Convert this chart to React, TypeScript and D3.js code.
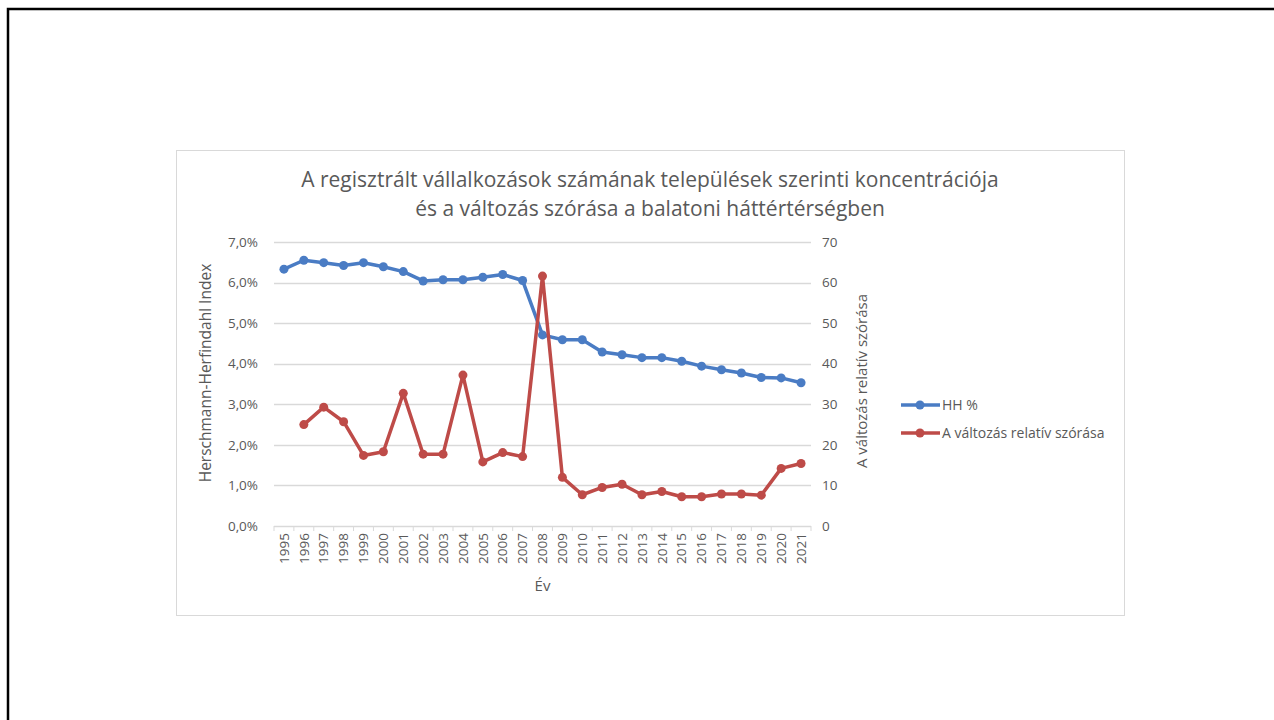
import { useEffect, useRef } from 'react';
import * as d3 from 'd3';

const years = d3.range(1995, 2022).map(String);

// HH % (left axis, percent)
const hhValues = [
  6.33, 6.55, 6.49, 6.42, 6.49, 6.39, 6.27, 6.04, 6.07, 6.07, 6.13, 6.2, 6.05, 4.71,
  4.59, 4.59, 4.29, 4.22, 4.15, 4.15, 4.06, 3.94, 3.85, 3.77, 3.66, 3.65, 3.53,
];

// A változás relatív szórása (right axis), 1995 has no value
const szorasValues = [
  null, 25.0, 29.3, 25.7, 17.4, 18.3, 32.7, 17.7, 17.7, 37.2, 15.8, 18.1, 17.1, 61.6,
  12.0, 7.7, 9.5, 10.3, 7.7, 8.5, 7.2, 7.2, 7.9, 7.9, 7.6, 14.2, 15.4,
];

const leftTicks = [0, 1, 2, 3, 4, 5, 6, 7];
const rightTicks = [0, 10, 20, 30, 40, 50, 60, 70];

const seriesNames = ['HH %', 'A változás relatív szórása'];
const titleLines = [
  'A regisztrált vállalkozások számának települések szerinti koncentrációja',
  'és a változás szórása a balatoni háttértérségben',
];

const BLUE = '#4a7cc4';
const RED = '#be4b48';
const TEXT = '#595959';
const FONT = '"Open Sans", "Noto Sans", sans-serif';

export default function App() {
  const svgRef = useRef<SVGSVGElement>(null);

  useEffect(() => {
    const svg = d3.select(svgRef.current);
    svg.selectAll('*').remove();

    // slide background and frame
    svg.append('rect').attr('width', 1274).attr('height', 720).attr('fill', '#fff');
    svg
      .append('rect')
      .attr('x', 8)
      .attr('y', 9)
      .attr('width', 1300)
      .attr('height', 760)
      .attr('fill', 'none')
      .attr('stroke', '#000')
      .attr('stroke-width', 2.5);

    // chart frame
    svg
      .append('rect')
      .attr('x', 176.5)
      .attr('y', 150.5)
      .attr('width', 948)
      .attr('height', 465)
      .attr('fill', '#fff')
      .attr('stroke', '#d9d9d9')
      .attr('stroke-width', 1);

    // title
    titleLines.forEach((t, i) => {
      svg
        .append('text')
        .attr('x', 650)
        .attr('y', 187 + i * 29)
        .attr('text-anchor', 'middle')
        .attr('fill', TEXT)
        .style('font-family', FONT)
        .style('font-size', '21px')
        .text(t);
    });

    const left = 274;
    const right = 811;
    const top = 242;
    const bottom = 526;

    const x = d3.scaleBand().domain(years).range([left, right]);
    const yL = d3.scaleLinear().domain([0, 7]).range([bottom, top]);
    const yR = d3.scaleLinear().domain([0, 70]).range([bottom, top]);

    const g = svg.append('g');

    // gridlines
    g.selectAll('line.grid')
      .data(leftTicks.filter((d) => d > 0))
      .join('line')
      .attr('x1', left)
      .attr('x2', right)
      .attr('y1', (d) => Math.round(yL(d)) + 0.5)
      .attr('y2', (d) => Math.round(yL(d)) + 0.5)
      .attr('stroke', '#d9d9d9')
      .attr('stroke-width', 1.5);

    // x axis line and ticks
    g.append('line')
      .attr('x1', left)
      .attr('x2', right)
      .attr('y1', bottom + 0.5)
      .attr('y2', bottom + 0.5)
      .attr('stroke', '#d9d9d9')
      .attr('stroke-width', 1.5);
    g.selectAll('line.xtick')
      .data(d3.range(years.length + 1))
      .join('line')
      .attr('x1', (i) => left + i * x.step())
      .attr('x2', (i) => left + i * x.step())
      .attr('y1', bottom)
      .attr('y2', bottom + 5)
      .attr('stroke', '#d9d9d9')
      .attr('stroke-width', 1);

    // left tick labels
    g.selectAll('text.lt')
      .data(leftTicks)
      .join('text')
      .attr('x', 258)
      .attr('y', (d) => yL(d))
      .attr('dy', '0.35em')
      .attr('text-anchor', 'end')
      .attr('fill', TEXT)
      .style('font-family', FONT)
      .style('font-size', '13.5px')
      .text((d) => d.toFixed(1).replace('.', ',') + '%');

    // right tick labels
    g.selectAll('text.rt')
      .data(rightTicks)
      .join('text')
      .attr('x', 822)
      .attr('y', (d) => yR(d))
      .attr('dy', '0.35em')
      .attr('text-anchor', 'start')
      .attr('fill', TEXT)
      .style('font-family', FONT)
      .style('font-size', '13.5px')
      .text((d) => d);

    // x tick labels
    g.selectAll('text.xt')
      .data(years)
      .join('text')
      .attr('transform', (d) => `translate(${x(d)! + x.bandwidth() / 2},533) rotate(-90)`)
      .attr('dy', '0.35em')
      .attr('text-anchor', 'end')
      .attr('fill', TEXT)
      .style('font-family', FONT)
      .style('font-size', '13.5px')
      .text((d) => d);

    // axis titles
    g.append('text')
      .attr('transform', `translate(206,${(top + bottom) / 2 - 11}) rotate(-90)`)
      .attr('dy', '0.35em')
      .attr('text-anchor', 'middle')
      .attr('fill', TEXT)
      .style('font-family', FONT)
      .style('font-size', '15.5px')
      .text('Herschmann-Herfindahl Index');
    g.append('text')
      .attr('transform', `translate(862,${(top + bottom) / 2 - 3}) rotate(-90)`)
      .attr('dy', '0.35em')
      .attr('text-anchor', 'middle')
      .attr('fill', TEXT)
      .style('font-family', FONT)
      .style('font-size', '15px')
      .text('A változás relatív szórása');
    g.append('text')
      .attr('x', (left + right) / 2)
      .attr('y', 591)
      .attr('text-anchor', 'middle')
      .attr('fill', TEXT)
      .style('font-family', FONT)
      .style('font-size', '15px')
      .text('Év');

    const cx = (i: number) => x(years[i])! + x.bandwidth() / 2;

    const drawSeries = (values: (number | null)[], y: d3.ScaleLinear<number, number>, color: string) => {
      const line = d3
        .line<number | null>()
        .defined((d) => d !== null)
        .x((_, i) => cx(i))
        .y((d) => y(d as number));
      g.append('path')
        .datum(values)
        .attr('d', line)
        .attr('fill', 'none')
        .attr('stroke', color)
        .attr('stroke-width', 3.5)
        .attr('stroke-linejoin', 'round');
      g.append('g')
        .selectAll('circle')
        .data(values.map((v, i) => ({ v, i })).filter((d) => d.v !== null))
        .join('circle')
        .attr('cx', (d) => cx(d.i))
        .attr('cy', (d) => y(d.v as number))
        .attr('r', 4.5)
        .attr('fill', color);
    };

    drawSeries(hhValues, yL, BLUE);
    drawSeries(szorasValues, yR, RED);

    // legend
    const legend = svg.append('g');
    [BLUE, RED].forEach((c, i) => {
      const ly = 405 + i * 28;
      legend
        .append('line')
        .attr('x1', 901)
        .attr('x2', 940)
        .attr('y1', ly)
        .attr('y2', ly)
        .attr('stroke', c)
        .attr('stroke-width', 3.5);
      legend.append('circle').attr('cx', 920).attr('cy', ly).attr('r', 4.5).attr('fill', c);
      legend
        .append('text')
        .attr('x', 942)
        .attr('y', ly)
        .attr('dy', '0.35em')
        .attr('fill', TEXT)
        .style('font-family', FONT)
        .style('font-size', '14px')
        .text(seriesNames[i]);
    });
  }, []);

  return (
    <svg
      ref={svgRef}
      width={1274}
      height={720}
      style={{ position: 'absolute', left: 0, top: 0, display: 'block' }}
    />
  );
}
